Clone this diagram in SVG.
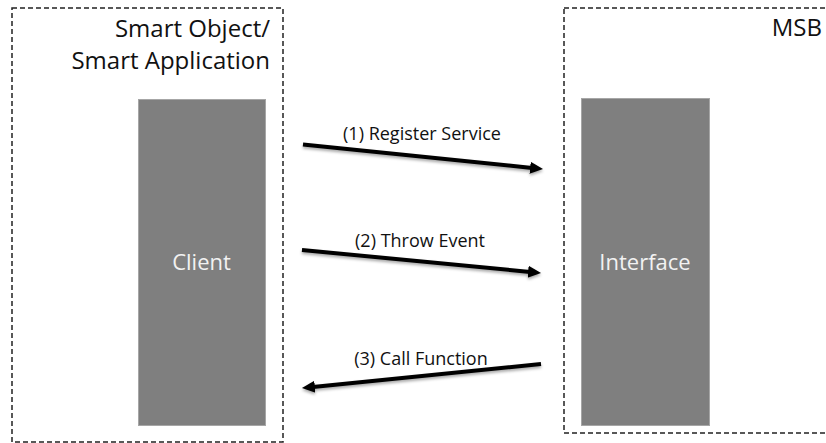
<svg xmlns="http://www.w3.org/2000/svg" width="826" height="443" viewBox="0 0 826 443">
  <style>
    .frame { fill: none; stroke: #222; stroke-width: 1.5; stroke-dasharray: 5 3; }
    .title { font-family: "Open Sans", "Noto Sans", sans-serif; font-size: 24px; fill: #111; text-anchor: end; }
    .block { fill: #7f7f7f; stroke: #a6a6a6; stroke-width: 1; }
    .block-label { font-family: "Open Sans", "Noto Sans", sans-serif; font-size: 22px; fill: #f2f2f2; text-anchor: middle; }
    .msg { fill: none; stroke: #000; stroke-width: 4; marker-end: url(#head); filter: url(#shade); }
    .msg-label { font-family: "Open Sans", "Noto Sans", sans-serif; font-size: 18px; fill: #111; text-anchor: middle; }
  </style>
  <defs>
    <marker id="head" markerUnits="userSpaceOnUse" markerWidth="16" markerHeight="14" viewBox="0 -7 16 14" refX="2" refY="0" orient="auto">
      <path d="M0,-6 L13,0 L0,6 z" fill="#000"/>
    </marker>
    <filter id="shade" x="-10%" y="-50%" width="120%" height="200%">
      <feDropShadow dx="0" dy="2" stdDeviation="1.5" flood-color="#000" flood-opacity="0.35"/>
    </filter>
  </defs>

  <g id="smart-object">
    <rect class="frame" x="12" y="8" width="271" height="434"/>
    <text class="title" x="270" y="37">Smart Object/</text>
    <text class="title" x="270" y="69">Smart Application</text>
  </g>

  <g id="msb">
    <rect class="frame" x="564" y="8" width="270" height="425"/>
    <text class="title" x="822" y="36">MSB</text>
  </g>

  <g id="client">
    <rect class="block" x="138.5" y="99.5" width="127" height="326"/>
    <text class="block-label" x="201.5" y="269.5">Client</text>
  </g>

  <g id="interface">
    <rect class="block" x="581.5" y="98.5" width="128" height="327"/>
    <text class="block-label" x="645" y="269.5">Interface</text>
  </g>

  <g id="connectors">
    <line class="msg" x1="303" y1="144.5" x2="532.1" y2="167.9"/>
    <text class="msg-label" x="422" y="140">(1) Register Service</text>
    <line class="msg" x1="302" y1="250" x2="530.1" y2="271.9"/>
    <text class="msg-label" x="420" y="247">(2) Throw Event</text>
    <line class="msg" x1="541" y1="364" x2="312.9" y2="386.9"/>
    <text class="msg-label" x="421" y="365">(3) Call Function</text>
  </g>
</svg>
